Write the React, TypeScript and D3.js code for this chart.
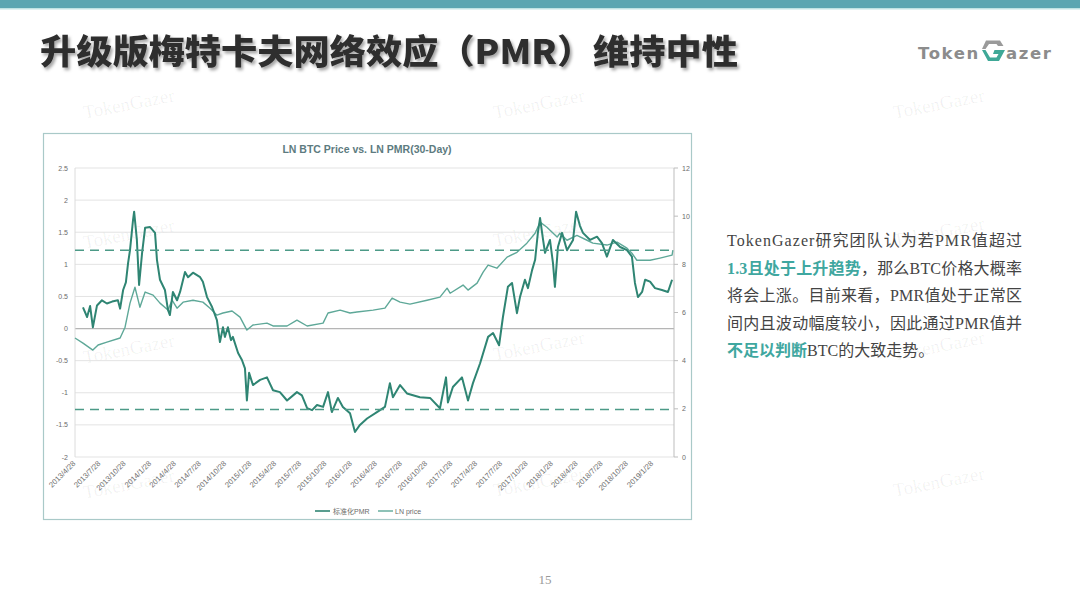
import React from "react";
import * as d3 from "d3";

const pmrDates = [
  "2013-05-27","2013-06-11","2013-06-22","2013-07-02","2013-07-17","2013-08-04","2013-08-22","2013-09-10","2013-10-01","2013-10-09",
  "2013-10-20","2013-10-30","2013-11-07","2013-11-14","2013-11-25","2013-11-29","2013-12-09","2013-12-17","2013-12-28","2014-01-08",
  "2014-01-26","2014-02-13","2014-02-20","2014-03-03","2014-03-21","2014-04-01","2014-04-08","2014-04-19","2014-05-04","2014-05-15",
  "2014-06-02","2014-06-13","2014-07-01","2014-07-27","2014-08-06","2014-08-21","2014-09-08","2014-09-26","2014-10-07","2014-10-18",
  "2014-10-25","2014-11-05","2014-11-16","2014-11-23","2014-12-12","2014-12-26","2015-01-06","2015-01-13","2015-01-21","2015-02-04",
  "2015-03-02","2015-03-27","2015-04-18","2015-05-13","2015-06-08","2015-07-14","2015-08-01","2015-08-20","2015-09-07","2015-09-25",
  "2015-10-17","2015-11-04","2015-11-18","2015-12-10","2015-12-28","2016-01-23","2016-02-10","2016-02-28","2016-03-25","2016-04-30",
  "2016-05-29","2016-06-16","2016-06-27","2016-07-23","2016-08-17","2016-10-03","2016-11-09","2016-12-15","2017-01-06","2017-01-13",
  "2017-01-31","2017-03-05","2017-03-27","2017-04-14","2017-05-10","2017-06-08","2017-06-26","2017-07-18","2017-08-01","2017-08-19",
  "2017-09-03","2017-09-21","2017-10-02","2017-10-20","2017-10-31","2017-11-15","2017-11-26","2017-12-06","2017-12-14","2017-12-25",
  "2018-01-01","2018-01-19","2018-01-30","2018-02-06","2018-02-17","2018-03-04","2018-03-22","2018-04-13","2018-04-24","2018-05-08",
  "2018-05-19","2018-06-14","2018-07-09","2018-07-27","2018-08-14","2018-09-05","2018-10-01","2018-10-26","2018-11-13","2018-11-24",
  "2018-12-05","2018-12-20","2018-12-31","2019-01-18","2019-02-05","2019-03-02","2019-03-24","2019-04-08"
];
const pmrValues = [
  0.33,0.18,0.35,0.02,0.36,0.44,0.39,0.42,0.44,0.31,
  0.6,0.72,1.02,1.22,1.69,1.82,1.38,0.68,1.18,1.57,
  1.58,1.49,1.07,0.76,0.6,0.29,0.21,0.57,0.44,0.57,
  0.88,0.8,0.87,0.8,0.73,0.49,0.34,0.13,-0.21,0.02,
  -0.13,0.02,-0.18,-0.13,-0.38,-0.49,-0.62,-1.12,-0.69,-0.88,
  -0.8,-0.76,-0.96,-0.99,-1.12,-0.99,-1.04,-1.24,-1.27,-1.19,
  -1.22,-0.99,-1.3,-1.08,-1.22,-1.32,-1.61,-1.5,-1.4,-1.3,
  -1.22,-0.85,-1.07,-0.88,-1.01,-1.07,-1.08,-1.24,-0.76,-1.15,
  -0.91,-0.76,-1.12,-0.85,-0.54,-0.13,-0.07,-0.26,0.18,0.65,
  0.71,0.24,0.49,0.76,0.63,0.91,1.07,1.49,1.72,1.38,
  1.18,1.38,1.02,0.65,1.27,1.49,1.22,1.38,1.82,1.6,
  1.49,1.38,1.43,1.33,1.12,1.38,1.27,1.22,1.12,0.71,
  0.49,0.57,0.76,0.73,0.63,0.6,0.57,0.76
];

const priceDates = [
  "2013-04-28","2013-05-27","2013-07-02","2013-07-21","2013-08-22","2013-10-09","2013-10-27","2013-11-14","2013-12-02","2013-12-20",
  "2014-01-08","2014-02-06","2014-03-03","2014-04-01","2014-04-16","2014-05-04","2014-05-26","2014-07-01","2014-08-06","2014-09-01",
  "2014-09-26","2014-10-18","2014-11-20","2014-12-19","2015-01-13","2015-02-04","2015-03-27","2015-04-18","2015-06-08","2015-07-14",
  "2015-08-20","2015-10-17","2015-11-04","2015-12-18","2016-01-23","2016-02-17","2016-04-16","2016-05-29","2016-06-24","2016-07-23",
  "2016-08-28","2016-10-29","2016-12-15","2017-01-10","2017-01-21","2017-03-09","2017-03-27","2017-04-29","2017-05-21","2017-06-08",
  "2017-07-10","2017-08-16","2017-09-21","2017-10-27","2017-11-26","2017-12-14","2018-01-08","2018-01-26","2018-02-14","2018-02-24",
  "2018-03-22","2018-04-27","2018-06-03","2018-06-24","2018-08-14","2018-09-20","2018-10-26","2018-11-13","2018-12-01","2019-01-18",
  "2019-02-23","2019-04-08","2019-04-11"
];
const priceValues = [
  4.94,4.73,4.44,4.65,4.77,4.94,5.39,6.39,7.05,6.22,
  6.85,6.72,6.39,6.1,6.51,6.18,6.43,6.51,6.43,6.18,
  5.89,5.98,6.06,5.81,5.27,5.48,5.56,5.44,5.44,5.68,
  5.44,5.56,5.98,6.1,5.98,6.02,6.1,6.18,6.6,6.43,
  6.35,6.51,6.64,7.01,6.8,7.14,6.93,7.22,7.68,7.97,
  7.84,8.3,8.5,8.88,9.29,9.75,9.54,9.34,9.13,9.29,
  9.0,9.2,9.0,8.88,8.8,8.92,8.67,8.46,8.17,8.17,
  8.26,8.38,8.59
];

const xTickLabels = [
  "2013/4/28","2013/7/28","2013/10/28","2014/1/28","2014/4/28","2014/7/28","2014/10/28","2015/1/28",
  "2015/4/28","2015/7/28","2015/10/28","2016/1/28","2016/4/28","2016/7/28","2016/10/28","2017/1/28",
  "2017/4/28","2017/7/28","2017/10/28","2018/1/28","2018/4/28","2018/7/28","2018/10/28","2019/1/28"
];
const leftTicks = [2.5, 2, 1.5, 1, 0.5, 0, -0.5, -1, -1.5, -2];
const rightTicks = [0, 2, 4, 6, 8, 10, 12];
const thresholds = [1.22, -1.26];
const legendLabels = ["标准化PMR", "LN price"];

const paragraph = [
  [{ t: "TokenGazer研究团队认为若PMR值超过", h: false }],
  [{ t: "1.3且处于上升趋势", h: true }, { t: "，那么BTC价格大概率", h: false }],
  [{ t: "将会上涨。目前来看，PMR值处于正常区", h: false }],
  [{ t: "间内且波动幅度较小，因此通过PMR值并", h: false }],
  [{ t: "不足以判断", h: true }, { t: "BTC的大致走势。", h: false }],
];

const watermarks = [
  [130, 110], [540, 110], [940, 110],
  [130, 240], [540, 238], [940, 238],
  [130, 355], [540, 352], [940, 352],
  [130, 490], [540, 488], [940, 488],
];

const parse = d3.timeParse("%Y-%m-%d");
const parseLabel = d3.timeParse("%Y/%m/%d");

export default function App() {
  const plotL = 75, plotR = 674, plotT = 168, plotB = 457;
  const x = d3.scaleTime()
    .domain([parse("2013-04-28")!, parse("2019-04-15")!])
    .range([plotL, plotR]);
  const yL = d3.scaleLinear().domain([-2, 2.5]).range([plotB, plotT]);
  const yR = d3.scaleLinear().domain([0, 12]).range([plotB, plotT]);

  const pmrData = pmrDates.map((d, i) => ({ d: parse(d)!, v: pmrValues[i] }));
  const priceData = priceDates.map((d, i) => ({ d: parse(d)!, v: priceValues[i] }));

  const pmrLine = d3.line<{ d: Date; v: number }>().x(p => x(p.d)).y(p => yL(p.v));
  const priceLine = d3.line<{ d: Date; v: number }>().x(p => x(p.d)).y(p => yR(p.v));

  const pmrColor = "#2f8573";
  const priceColor = "#5ea898";
  const axisText = "#6b6b6b";
  const chartFont = "'Liberation Sans', 'Noto Sans CJK SC', sans-serif";

  return (
    <svg width={1080} height={607} style={{ position: "fixed", left: 0, top: 0, background: "#fff" }}>
      <defs>
        <filter id="shadow" x="-5%" y="-20%" width="110%" height="150%">
          <feDropShadow dx="2" dy="2.5" stdDeviation="1.6" floodColor="#000" floodOpacity="0.35" />
        </filter>
      </defs>
      <rect x={0} y={0} width={1080} height={607} fill="#ffffff" />
      <rect x={0} y={0} width={1080} height={8} fill="#5ba6b1" />
      <rect x={0} y={8} width={1080} height={1.5} fill="#bfe3e3" />

      {watermarks.map(([wx, wy], i) => (
        <text key={i} x={wx} y={wy} transform={`rotate(-11 ${wx} ${wy})`} textAnchor="middle"
          fontFamily="'Liberation Serif', serif" fontSize={19} fill="#000" fillOpacity={0.06}>TokenGazer</text>
      ))}

      <text x={40} y={64} fontFamily="'Noto Sans CJK SC', sans-serif" fontWeight={900} fontSize={34}
        fill="#2e2e2e" filter="url(#shadow)" textLength={698} lengthAdjust="spacingAndGlyphs">
        升级版梅特卡夫网络效应（PMR）维持中性
      </text>

      <g>
        <text x={918} y={59} fontFamily="'DejaVu Sans', sans-serif" fontWeight={700} fontSize={16.5}
          fill="#8c8c8c" letterSpacing={1.6}>Token</text>
        <path d="M986,40.5 L1000,40.5 L1003.5,46 L998,46 L996.5,44 L989,44 L985.5,49 L982,49 Z" fill="#9a9a9a" />
        <path d="M982,50 L985.5,50 L990,57.5 L996.5,57.5 L998.5,54 L993,54 L994.5,50 L1005,50 L999,61 L988,61 Z" fill="#3fa897" />
        <text x={1006} y={59} fontFamily="'DejaVu Sans', sans-serif" fontWeight={700} fontSize={16.5}
          fill="#8c8c8c" letterSpacing={1.6}>azer</text>
      </g>

      <rect x={43.5} y={133.5} width={648} height={386} fill="none" stroke="#a9c9c8" strokeWidth={1.2} />
      <text x={367} y={153} textAnchor="middle" fontFamily={chartFont} fontWeight={700} fontSize={10.5}
        fill="#5d7b80">LN BTC Price vs. LN PMR(30-Day)</text>

      {leftTicks.map(t => (
        <line key={t} x1={plotL} x2={plotR} y1={yL(t)} y2={yL(t)}
          stroke={t === 0 ? "#b5b5b5" : "#e3e3e3"} strokeWidth={t === 0 ? 1.2 : 1} />
      ))}
      <line x1={plotL} x2={plotL} y1={plotT} y2={plotB} stroke="#dcdcdc" />
      <line x1={plotR} x2={plotR} y1={plotT} y2={plotB} stroke="#bdbdbd" />

      {leftTicks.map(t => (
        <text key={t} x={plotL - 7} y={yL(t) + 2.5} textAnchor="end" fontFamily={chartFont} fontSize={7}
          fill={axisText}>{t}</text>
      ))}
      {rightTicks.map(t => (
        <g key={t}>
          <line x1={plotR} x2={plotR + 4} y1={yR(t)} y2={yR(t)} stroke="#bdbdbd" />
          <text x={plotR + 8} y={yR(t) + 2.5} fontFamily={chartFont} fontSize={7} fill={axisText}>{t}</text>
        </g>
      ))}

      {xTickLabels.map(l => {
        const tx = x(parseLabel(l)!) + 1;
        const ty = plotB + 7;
        return (
          <text key={l} x={tx} y={ty} transform={`rotate(-45 ${tx} ${ty})`} textAnchor="end"
            fontFamily={chartFont} fontSize={7.6} fill={axisText}>{l}</text>
        );
      })}

      <path d={priceLine(priceData) || ""} fill="none" stroke={priceColor} strokeWidth={1.4} strokeLinejoin="round" />
      <path d={pmrLine(pmrData) || ""} fill="none" stroke={pmrColor} strokeWidth={2} strokeLinejoin="round" />

      {thresholds.map(t => (
        <line key={t} x1={plotL} x2={plotR} y1={yL(t)} y2={yL(t)} stroke="#4c9a87" strokeWidth={1.6}
          strokeDasharray="9 6" />
      ))}

      <line x1={315} x2={330} y1={511} y2={511} stroke={pmrColor} strokeWidth={1.6} />
      <text x={333} y={513.5} fontFamily={chartFont} fontSize={7} fill={axisText}>{legendLabels[0]}</text>
      <line x1={378} x2={393} y1={511} y2={511} stroke={priceColor} strokeWidth={1.4} />
      <text x={395} y={513.5} fontFamily={chartFont} fontSize={7} fill={axisText}>{legendLabels[1]}</text>

      {paragraph.map((line, i) => (
        <text key={i} x={727} y={246 + i * 27.5} fontFamily="'Liberation Serif', 'Noto Sans CJK SC', serif"
          fontSize={16} fill="#444" textLength={i === 4 ? undefined : 295} lengthAdjust="spacing">
          {line.map((s, j) => (
            <tspan key={j} fill={s.h ? "#3fa7a0" : "#444"} fontWeight={s.h ? 700 : 400}>{s.t}</tspan>
          ))}
        </text>
      ))}

      <text x={545} y={584} textAnchor="middle" fontFamily="'Liberation Serif', serif" fontSize={13} fill="#999">15</text>
    </svg>
  );
}
